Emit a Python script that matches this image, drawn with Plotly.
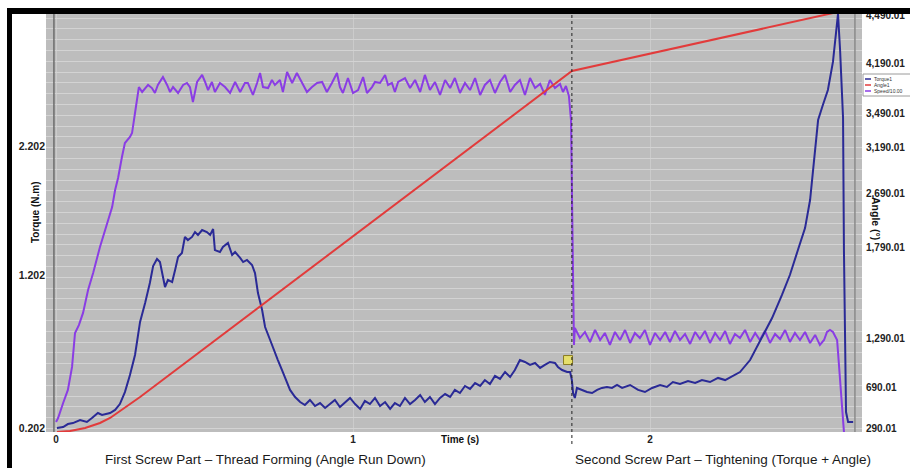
import plotly.graph_objects as go

# ---------------- data ----------------
# Torque1 (N.m), time in s
time_torque = [0.003, 0.024, 0.040, 0.057, 0.081, 0.104, 0.121, 0.141, 0.155, 0.182, 0.199, 0.215, 0.232, 0.249,
               0.266, 0.283, 0.300, 0.316, 0.327, 0.340, 0.350, 0.357, 0.367, 0.377, 0.391, 0.401, 0.411, 0.424,
               0.434, 0.444, 0.458, 0.468, 0.478, 0.492, 0.508, 0.519, 0.529, 0.535, 0.552, 0.562, 0.579, 0.593,
               0.603, 0.620, 0.630, 0.643, 0.660, 0.670, 0.680, 0.694, 0.704, 0.721, 0.737, 0.747, 0.761, 0.771,
               0.788, 0.805, 0.822, 0.838, 0.855, 0.872, 0.889, 0.906, 0.923, 0.939, 0.956, 0.973, 0.990, 1.007,
               1.024, 1.040, 1.057, 1.074, 1.091, 1.108, 1.125, 1.141, 1.158, 1.175, 1.192, 1.209, 1.226, 1.242,
               1.259, 1.276, 1.293, 1.310, 1.327, 1.343, 1.360, 1.377, 1.394, 1.411, 1.428, 1.444, 1.461, 1.478,
               1.495, 1.512, 1.529, 1.545, 1.562, 1.579, 1.596, 1.613, 1.630, 1.646, 1.663, 1.680, 1.690, 1.704,
               1.721, 1.731, 1.737, 1.741, 1.747, 1.754, 1.771, 1.788, 1.805, 1.822, 1.838, 1.855, 1.872, 1.889,
               1.906, 1.933, 1.960, 1.983, 2.007, 2.034, 2.057, 2.077, 2.101, 2.128, 2.152, 2.175, 2.202, 2.229,
               2.253, 2.276, 2.303, 2.337, 2.377, 2.411, 2.444, 2.471, 2.498, 2.522, 2.539, 2.556, 2.566, 2.582,
               2.599, 2.616, 2.626, 2.633, 2.640, 2.646, 2.650, 2.653, 2.657, 2.660, 2.667, 2.684]
torque = [0.202, 0.209, 0.230, 0.237, 0.259, 0.245, 0.273, 0.308, 0.294, 0.308, 0.330, 0.372, 0.457, 0.578,
          0.720, 0.954, 1.089, 1.230, 1.351, 1.401, 1.379, 1.301, 1.202, 1.252, 1.237, 1.323, 1.415, 1.443,
          1.557, 1.535, 1.557, 1.592, 1.571, 1.606, 1.592, 1.571, 1.613, 1.464, 1.450, 1.486, 1.514, 1.429,
          1.450, 1.408, 1.379, 1.394, 1.358, 1.301, 1.159, 1.039, 0.918, 0.826, 0.734, 0.684, 0.613, 0.557,
          0.472, 0.422, 0.386, 0.365, 0.401, 0.358, 0.379, 0.344, 0.372, 0.401, 0.351, 0.386, 0.415, 0.372,
          0.337, 0.394, 0.372, 0.415, 0.358, 0.386, 0.337, 0.379, 0.358, 0.415, 0.372, 0.401, 0.436, 0.386,
          0.422, 0.372, 0.415, 0.443, 0.422, 0.472, 0.450, 0.500, 0.479, 0.521, 0.500, 0.542, 0.514, 0.571,
          0.550, 0.599, 0.564, 0.613, 0.684, 0.670, 0.649, 0.663, 0.628, 0.649, 0.670, 0.663, 0.635, 0.613,
          0.599, 0.599, 0.542, 0.450, 0.415, 0.486, 0.472, 0.457, 0.450, 0.472, 0.486, 0.493, 0.486, 0.507,
          0.486, 0.507, 0.472, 0.457, 0.486, 0.507, 0.493, 0.528, 0.514, 0.535, 0.521, 0.542, 0.528, 0.557,
          0.542, 0.571, 0.599, 0.684, 0.847, 0.982, 1.145, 1.287, 1.464, 1.620, 1.819, 2.174, 2.386, 2.493,
          2.599, 2.798, 2.989, 3.138, 2.883, 2.528, 2.401, 1.464, 0.542, 0.315, 0.245, 0.245]

# Angle1 (deg)
time_angle = [0.003, 0.047, 0.098, 0.148, 0.182, 0.215, 0.249, 0.283, 1.737, 2.616]
angle = [249, 259, 290, 341, 392, 463, 534, 605, 3920, 4510]

# Speed/10.00 (plotted against the torque scale)
time_speed = [0.000, 0.007, 0.024, 0.040, 0.054, 0.064, 0.077, 0.091, 0.108, 0.125, 0.148, 0.172, 0.189, 0.199,
              0.209, 0.222, 0.232, 0.249, 0.256, 0.266, 0.279,
              0.290, 0.300, 0.310, 0.323, 0.333, 0.343, 0.360, 0.374, 0.384, 0.394, 0.411, 0.428, 0.441, 0.451,
              0.461, 0.475, 0.492, 0.502, 0.512, 0.525, 0.535, 0.552, 0.569, 0.586, 0.603, 0.620, 0.636, 0.646,
              0.663, 0.677, 0.687, 0.697, 0.714, 0.727, 0.737, 0.754, 0.764, 0.778, 0.795, 0.811, 0.828, 0.845,
              0.862, 0.879, 0.896, 0.912, 0.929, 0.946, 0.956, 0.966, 0.983, 1.000, 1.017, 1.034, 1.047, 1.064,
              1.074, 1.091, 1.108, 1.118, 1.131, 1.141, 1.152, 1.175, 1.192, 1.209, 1.226, 1.242, 1.259, 1.276,
              1.293, 1.310, 1.327, 1.343, 1.360, 1.377, 1.394, 1.411, 1.428, 1.444, 1.461, 1.478, 1.495, 1.512,
              1.529, 1.545, 1.562, 1.579, 1.596, 1.613, 1.630, 1.646, 1.663, 1.680, 1.697, 1.707, 1.717, 1.727,
              1.734, 1.737, 1.741, 1.744,
              1.747, 1.764, 1.781, 1.798, 1.815, 1.832, 1.848, 1.865, 1.882, 1.899, 1.916, 1.933, 1.949, 1.966,
              1.983, 2.000, 2.017, 2.034, 2.051, 2.067, 2.084, 2.101, 2.118, 2.135, 2.152, 2.168, 2.185, 2.202,
              2.219, 2.236, 2.253, 2.269, 2.286, 2.303, 2.320, 2.337, 2.354, 2.370, 2.387, 2.404, 2.421, 2.438,
              2.455, 2.471, 2.488, 2.505, 2.522, 2.539, 2.556, 2.572, 2.586, 2.596, 2.606, 2.616, 2.630, 2.640,
              2.653, 2.657]
speed = [0.245, 0.273, 0.379, 0.472, 0.635, 0.876, 0.932, 1.018, 1.181, 1.301, 1.486, 1.656, 1.769, 1.890,
         1.975, 2.124, 2.223, 2.266, 2.294, 2.436, 2.620,
         2.585, 2.613, 2.635, 2.613, 2.578, 2.635, 2.691, 2.635, 2.585, 2.620, 2.578, 2.635, 2.649, 2.620,
         2.514, 2.656, 2.706, 2.656, 2.599, 2.656, 2.585, 2.649, 2.620, 2.578, 2.656, 2.585, 2.649, 2.649,
         2.564, 2.649, 2.720, 2.620, 2.613, 2.670, 2.635, 2.670, 2.585, 2.727, 2.649, 2.720, 2.649, 2.585,
         2.620, 2.649, 2.656, 2.585, 2.649, 2.720, 2.620, 2.578, 2.684, 2.578, 2.599, 2.691, 2.578, 2.620,
         2.656, 2.649, 2.706, 2.635, 2.649, 2.585, 2.656, 2.684, 2.613, 2.670, 2.585, 2.706, 2.599, 2.656,
         2.564, 2.670, 2.613, 2.684, 2.578, 2.649, 2.599, 2.684, 2.564, 2.635, 2.670, 2.578, 2.656, 2.706,
         2.585, 2.635, 2.670, 2.564, 2.684, 2.613, 2.642, 2.564, 2.670, 2.613, 2.642, 2.585, 2.628, 2.556,
         2.386, 1.819, 1.110, 0.791,
         0.911, 0.840, 0.883, 0.812, 0.897, 0.826, 0.876, 0.791, 0.883, 0.826, 0.897, 0.805, 0.876, 0.840,
         0.897, 0.791, 0.876, 0.826, 0.883, 0.812, 0.890, 0.826, 0.869, 0.798, 0.883, 0.833, 0.890, 0.805,
         0.876, 0.826, 0.890, 0.798, 0.869, 0.840, 0.897, 0.812, 0.876, 0.826, 0.890, 0.805, 0.869, 0.833,
         0.897, 0.812, 0.876, 0.826, 0.883, 0.805, 0.862, 0.791, 0.826, 0.883, 0.897, 0.883, 0.826, 0.542,
         0.174, 0.152]

# cursor marker
marker_time = [1.724]
marker_torque = [0.684]

# axes / ticks
time_tickvals = [0, 1, 2]
time_ticktext = ["0", "1", "2"]
torque_tickvals = [0.202, 1.287, 2.202]
torque_ticktext = ["0.202", "1.202", "2.202"]
angle_tickvals = [290.01, 706.9, 1205.2, 2130.6, 2679.7, 3147.5, 3493.2, 4001.7, 4490.01]
angle_ticktext = ["290.01", "690.01", "1,290.01", "1,790.01", "2,690.01", "3,190.01",
                  "3,490.01", "4,190.01", "4,490.01"]
legend_names = ["Torque1", "Angle1", "Speed/10.00"]
caption_left = "First Screw Part – Thread Forming (Angle Run Down)"
caption_right = "Second Screw Part – Tightening (Torque + Angle)"
section_time = 1.737
end_time = 2.690

# ---------------- styling ----------------
C_TORQUE = "#2a2a96"
C_ANGLE = "#e23b3b"
C_SPEED = "#8a3de4"
BOLD_L = dict(family="Liberation Sans", size=10.5, color="#222222", weight="bold")
BOLD_R = dict(family="Liberation Sans", size=10, color="#222222", weight="bold")
BOLD_X = dict(family="Liberation Sans", size=10, color="#222222", weight="bold")

fig = go.Figure()
fig.add_trace(go.Scatter(x=[None], y=[None], xaxis="x", yaxis="y", showlegend=False, hoverinfo="skip"))
fig.add_trace(go.Scatter(x=time_speed, y=speed, yaxis="y2", mode="lines", name=legend_names[2],
                         line=dict(color=C_SPEED, width=2), showlegend=False))
fig.add_trace(go.Scatter(x=time_torque, y=torque, yaxis="y2", mode="lines", name=legend_names[0],
                         line=dict(color=C_TORQUE, width=2), showlegend=False))
fig.add_trace(go.Scatter(x=marker_time, y=marker_torque, yaxis="y2", mode="markers", showlegend=False,
                         marker=dict(symbol="square", size=9, color="#e6df6c",
                                     line=dict(color="#8a7b22", width=1))))
fig.add_trace(go.Scatter(x=time_angle, y=angle, yaxis="y3", mode="lines", name=legend_names[1],
                         line=dict(color=C_ANGLE, width=2), showlegend=False))

L, R, T, B, W, H = 46, 48, 14, 36, 910, 468
pw, ph = W - L - R, H - T - B


def px(x):
    return (x - L) / pw


def py(y):
    return (H - B - y) / ph


shapes = [
    dict(type="line", xref="x", yref="paper", x0=-0.007, x1=-0.007, y0=0, y1=1,
         line=dict(color="#6c6c6c", width=1.5)),
    dict(type="line", xref="x", yref="paper", x0=end_time, x1=end_time, y0=0, y1=1,
         line=dict(color="#8a8a8a", width=1.5)),
    dict(type="line", xref="x", yref="paper", x0=section_time, x1=section_time, y0=py(444), y1=1,
         line=dict(color="#222222", width=1, dash="dot")),
    dict(type="rect", xref="paper", yref="paper", x0=px(7), x1=px(910), y0=py(14), y1=py(8),
         fillcolor="#000000", line=dict(width=0), layer="above"),
    dict(type="rect", xref="paper", yref="paper", x0=px(7), x1=px(12), y0=py(468), y1=py(8),
         fillcolor="#000000", line=dict(width=0), layer="above"),
    dict(type="rect", xref="paper", yref="paper", x0=px(863), x1=px(912), y0=py(96), y1=py(74),
         fillcolor="#ffffff", line=dict(color="#9a9a9a", width=1)),
]
annotations = []
for i, (nm, col) in enumerate(zip(legend_names, [C_TORQUE, C_ANGLE, C_SPEED])):
    yy = 79 + 6 * i
    shapes.append(dict(type="line", xref="paper", yref="paper", x0=px(865), x1=px(871),
                       y0=py(yy), y1=py(yy), line=dict(color=col, width=1.5)))
    annotations.append(dict(text=nm, xref="paper", yref="paper", x=px(872), y=py(yy),
                            xanchor="left", yanchor="middle", showarrow=False,
                            font=dict(family="Liberation Sans", size=5, color="#333333")))

annotations += [
    dict(text="Time (s)", xref="paper", yref="paper", x=px(460), y=py(439), showarrow=False,
         xanchor="center", yanchor="middle", font=dict(family="Liberation Sans", size=10, color="#111111", weight="bold")),
    dict(text="Torque (N.m)", xref="paper", yref="paper", x=px(35), y=py(213), showarrow=False,
         textangle=-90, xanchor="center", yanchor="middle",
         font=dict(family="Liberation Sans", size=10, color="#111111", weight="bold")),
    dict(text="Angle (°)", xref="paper", yref="paper", x=px(876), y=py(218), showarrow=False,
         textangle=90, xanchor="center", yanchor="middle",
         font=dict(family="Liberation Sans", size=10.5, color="#111111", weight="bold")),
    dict(text=caption_left, xref="paper", yref="paper", x=px(265), y=py(459), showarrow=False,
         xanchor="center", yanchor="middle",
         font=dict(family="Liberation Sans", size=13.5, color="#1a1a1a")),
    dict(text=caption_right, xref="paper", yref="paper", x=px(723), y=py(459), showarrow=False,
         xanchor="center", yanchor="middle",
         font=dict(family="Liberation Sans", size=13.5, color="#1a1a1a")),
]

fig.update_layout(
    width=W, height=H,
    margin=dict(l=L, r=R, t=T, b=B, pad=0),
    paper_bgcolor="#ffffff", plot_bgcolor="#bdbdbd",
    showlegend=False,
    xaxis=dict(range=[-0.0337, 2.7138], tickmode="array", tickvals=time_tickvals, ticktext=time_ticktext,
               showgrid=True, gridcolor="#cbcbcb", gridwidth=1, zeroline=False, showline=False,
               ticks="", tickfont=BOLD_X, automargin=False),
    yaxis=dict(range=[-0.32, 38.38], tick0=0, dtick=1, showgrid=True, gridcolor="#d3d3d3", gridwidth=1,
               zeroline=False, showticklabels=False, ticks="", showline=False, automargin=False),
    yaxis2=dict(overlaying="y", side="left", range=[0.1736, 3.1382], tickmode="array",
                tickvals=torque_tickvals, ticktext=torque_ticktext, showgrid=False, zeroline=False,
                ticks="", tickfont=BOLD_L, automargin=False, showline=False),
    yaxis3=dict(overlaying="y", side="right", range=[249.3, 4500.2], tickmode="array",
                tickvals=angle_tickvals, ticktext=angle_ticktext, showgrid=False, zeroline=False,
                ticks="", tickfont=BOLD_R, automargin=False, showline=False, ticklabelstandoff=3),
    shapes=shapes,
    annotations=annotations,
)

fig.write_html("out.html", config={"displayModeBar": False},
               post_script="document.body.style.margin='0px';document.body.style.overflow='hidden';")
